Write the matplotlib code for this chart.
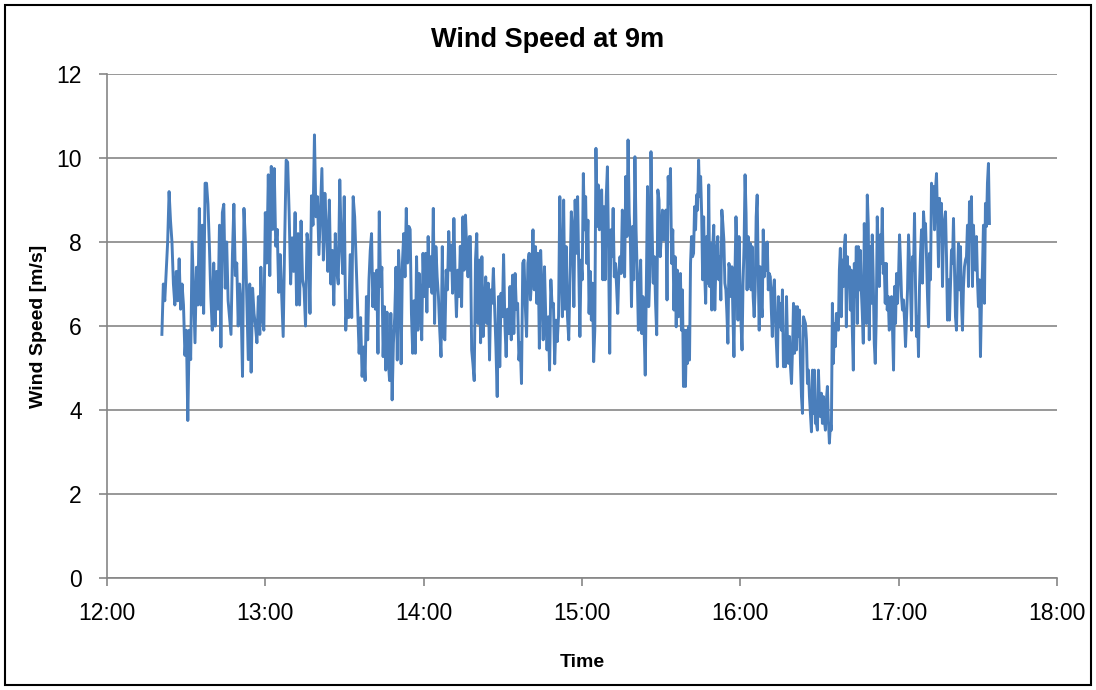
import numpy as np
import matplotlib
matplotlib.use("Agg")
import matplotlib.pyplot as plt
from matplotlib.patches import Rectangle

# Time ranges (minutes after 12:00) of each traced segment and the wind speeds in it
seg_ranges = [(20.8, 57.9), (58.3, 97.8), (98.3, 137.3), (137.7, 177.4),
              (177.9, 217.0), (217.3, 257.1), (257.5, 296.8), (297.3, 334.4)]

seg1 = [5.8, 7.0, 6.6, 7.3, 8.0, 9.2, 8.5, 8.0, 7.0, 6.5, 7.3, 6.6, 7.6, 6.4, 7.0, 6.5, 5.3, 5.9, 3.75, 5.9,
        5.2, 8.0, 6.8, 5.6, 7.4, 6.5, 8.8, 6.5, 8.4, 6.3, 9.4, 9.4, 8.9, 7.9, 6.7, 5.9, 7.5, 6.0, 7.3, 6.4,
        8.4, 5.5, 8.7, 8.9, 6.9, 8.0, 6.6, 6.2, 5.8, 7.7, 8.9, 7.2, 7.5, 6.0, 7.0, 6.5, 4.8, 8.8, 8.0, 6.6,
        5.2, 7.0, 4.9, 6.9, 6.3, 6.0, 5.6, 6.7, 5.8]
seg2 = [7.4, 6.2, 5.9, 8.7, 7.5, 9.6, 7.2, 9.8, 8.3, 9.75, 7.9, 8.3, 6.8, 7.7, 6.7, 5.75, 8.0, 9.95, 9.9, 8.7,
        7.0, 8.1, 7.3, 8.7, 6.5, 8.2, 6.5, 8.5, 7.1, 6.9, 6.0, 8.2, 7.9, 6.3, 9.1, 8.4, 10.55, 8.6, 9.08, 7.7,
        8.7, 9.75, 7.57, 9.16, 8.3, 7.3, 9.0, 7.0, 7.8, 6.5, 8.2, 7.3, 7.0, 9.48, 7.97, 7.25, 9.08, 5.9, 6.6, 6.2,
        7.7, 6.2, 9.08, 8.6, 7.5, 6.46, 5.35, 6.2, 4.8, 5.5, 4.7]
seg3 = [6.7, 5.67, 7.1, 7.8, 8.2, 6.46, 7.25, 6.4, 7.33, 5.35, 8.72, 6.94, 7.4, 5.27, 6.46, 4.95, 6.33, 5.19, 4.7, 6.3,
        4.24, 5.6, 6.22, 7.4, 5.19, 7.8, 7.1, 5.1, 7.5, 8.2, 7.17, 8.8, 7.5, 8.37, 8.3, 6.3, 5.35, 6.6, 5.35, 7.65,
        5.9, 7.25, 6.54, 5.67, 7.73, 6.7, 7.73, 6.33, 8.13, 6.94, 7.65, 6.78, 8.8, 6.06, 7.89, 7.17, 6.7, 5.9, 5.27, 7.89,
        5.75, 5.67, 7.33, 6.86, 8.25, 7.33, 7.93, 6.78, 8.56, 7.17, 6.22, 7.33, 6.7, 7.9, 6.46, 8.6, 7.33, 8.64, 7.8, 7.17,
        8.13]
seg4 = [8.13, 5.43, 5.1, 4.7, 7.57, 8.2, 6.06, 7.57, 5.6, 7.65, 5.75, 6.4, 7.17, 6.06, 7.02, 5.19, 6.86, 6.54, 7.37, 6.4,
        5.5, 4.32, 6.7, 5.03, 6.78, 6.22, 7.7, 6.06, 5.27, 6.4, 5.82, 6.94, 5.67, 7.21, 5.82, 7.25, 6.4, 6.54, 5.19, 5.6,
        4.63, 7.5, 7.57, 6.46, 5.75, 7.5, 7.73, 6.62, 7.17, 8.29, 6.86, 7.89, 6.54, 7.73, 5.47, 7.8, 6.86, 5.67, 7.41, 6.22,
        5.43, 6.22, 4.95, 7.1, 6.46, 6.54, 5.1, 6.14, 5.63, 6.22, 9.08, 7.33, 6.22, 9.0, 6.4, 7.89, 6.22, 5.67, 7.25, 8.72,
        8.29, 6.46, 9.0]
seg5 = [7.73, 9.08, 7.41, 5.75, 7.57, 7.1, 9.63, 8.29, 9.08, 7.49, 8.52, 6.3, 7.3, 6.14, 7.02, 5.15, 5.9, 10.23, 8.37, 9.36,
        8.29, 9.16, 9.24, 7.1, 8.84, 7.1, 9.08, 9.79, 7.8, 5.35, 8.29, 7.65, 8.8, 7.17, 7.49, 6.94, 6.3, 7.33, 7.65, 7.25,
        8.76, 8.05, 7.17, 9.56, 8.13, 10.43, 8.68, 8.05, 6.46, 8.37, 7.1, 10.03, 8.29, 7.25, 5.9, 6.86, 7.57, 5.82, 6.7, 5.9,
        4.83, 7.02, 9.32, 6.46, 7.17, 10.15, 8.29, 7.02, 7.65, 6.54, 5.79, 9.24, 9.0, 7.65, 8.13, 8.76, 8.05, 8.13, 8.76, 6.62,
        9.56, 8.92, 9.75, 7.49, 8.29, 6.38, 7.65, 5.98, 7.33, 6.22, 7.17]
seg6 = [7.25, 5.9, 6.86, 4.56, 5.9, 4.56, 5.9, 5.11, 5.98, 5.19, 7.49, 8.13, 7.65, 7.73, 8.84, 8.29, 9.12, 8.76, 9.95, 9.08,
        9.56, 8.68, 7.1, 8.6, 7.25, 6.54, 8.13, 7.02, 9.36, 6.94, 7.97, 6.38, 7.89, 8.4, 6.38, 7.33, 7.89, 8.13, 7.1, 7.65,
        6.62, 8.76, 8.44, 8.05, 7.02, 6.86, 6.3, 5.59, 7.49, 7.33, 6.7, 7.41, 6.22, 5.27, 7.25, 8.6, 7.8, 6.14, 8.13, 7.02,
        6.06, 5.43, 7.02, 7.89, 9.6, 8.68, 6.86, 8.13, 6.94, 7.97, 6.86, 7.89, 6.7, 6.22, 6.86, 8.6, 9.12, 7.33, 5.9, 7.41,
        6.54, 6.22, 8.29, 7.17, 7.97, 7.33, 8.0, 6.86, 7.25, 7.17, 6.38, 5.75, 6.86, 7.1, 6.22, 5.59, 5.03, 6.7, 5.98, 6.54,
        5.9, 6.86, 5.03, 5.75, 5.03]
seg7 = [6.7, 5.59, 5.11, 5.75, 5.03, 4.63, 5.43, 6.54, 5.35, 6.46, 5.43, 6.46, 5.75, 6.38, 5.11, 4.32, 3.92, 6.22, 6.14, 6.06,
        5.67, 4.63, 4.95, 4.32, 3.92, 3.48, 4.95, 3.92, 4.95, 3.68, 3.68, 3.52, 4.95, 4.24, 3.84, 4.4, 3.68, 4.32, 3.76, 3.52,
        4.24, 4.56, 3.76, 3.21, 3.68, 3.52, 6.54, 5.11, 6.06, 5.51, 6.3, 6.06, 5.9, 7.33, 7.85, 6.22, 7.57, 6.94, 7.89, 8.17,
        5.98, 7.65, 6.94, 7.41, 6.38, 7.33, 5.9, 4.95, 7.49, 6.7, 7.89, 6.06, 7.89, 6.86, 7.8, 6.86, 6.3, 5.59, 8.44, 7.1,
        6.06, 9.12, 8.44, 5.67, 7.89, 6.54, 8.17, 7.1, 5.59, 5.11, 6.22, 8.6, 7.73, 6.94, 8.17, 7.49, 8.8, 7.25, 7.49, 6.54,
        7.49, 6.38, 6.7, 5.9, 5.98]
seg8 = [6.7, 5.9, 4.95, 6.94, 6.06, 7.25, 6.54, 7.17, 8.17, 7.49, 6.7, 6.38, 6.62, 6.14, 5.51, 6.22, 6.86, 8.17, 7.49, 6.86,
        5.9, 7.65, 7.33, 8.68, 6.94, 5.75, 6.22, 5.27, 6.94, 7.73, 8.29, 7.02, 8.72, 8.29, 8.44, 7.65, 6.7, 5.98, 7.73, 7.1,
        9.4, 9.08, 9.32, 8.29, 9.24, 9.63, 8.6, 7.41, 9.04, 8.44, 8.92, 6.94, 8.29, 8.52, 8.72, 7.65, 6.14, 7.1, 6.14, 7.02,
        7.81, 7.49, 8.56, 7.33, 6.22, 5.9, 7.1, 7.97, 6.86, 7.89, 6.54, 5.9, 6.94, 7.41, 7.57, 7.65, 8.4, 6.94, 8.96, 8.29,
        9.08, 6.94, 8.4, 7.65, 7.33, 8.13, 7.1, 6.46, 7.1, 5.27, 6.54, 7.33, 8.4, 6.54, 8.92, 8.37, 9.4, 9.87, 8.44]

segments = [seg1, seg2, seg3, seg4, seg5, seg6, seg7, seg8]

x_ticks_min = [0, 60, 120, 180, 240, 300, 360]
x_tick_labels = ["12:00", "13:00", "14:00", "15:00", "16:00", "17:00", "18:00"]
y_ticks = [0, 2, 4, 6, 8, 10, 12]

times = np.concatenate([np.linspace(a, b, len(s)) for (a, b), s in zip(seg_ranges, segments)])
speeds = np.concatenate([np.asarray(s, dtype=float) for s in segments])

plt.rcParams['font.family'] = ['Liberation Sans', 'DejaVu Sans']

fig = plt.figure(figsize=(10.96, 6.90), dpi=100)
ax = fig.add_axes([107/1096, 1 - 578/690, (1057 - 107)/1096, (578 - 74)/690])

grid_c = '#868686'
ax.plot(times, speeds, color='#4A7EBB', linewidth=2.1, solid_joinstyle='round', zorder=3)

ax.set_xlim(0, 360)
ax.set_ylim(0, 12)
ax.set_xticks(x_ticks_min)
ax.set_xticklabels(x_tick_labels)
ax.set_yticks(y_ticks)
ax.yaxis.grid(True, color=grid_c, linewidth=1.2)
ax.set_axisbelow(True)
for s in ['top', 'right']:
    ax.spines[s].set_visible(False)
for s in ['left', 'bottom']:
    ax.spines[s].set_color(grid_c)
    ax.spines[s].set_linewidth(1.2)
ax.tick_params(axis='both', colors=grid_c, labelcolor='black', labelsize=16.5,
               length=6, width=1.2, direction='out')
ax.tick_params(axis='x', pad=11)
ax.tick_params(axis='y', pad=12)

fig.text(0.5, 1 - 40/690, "Wind Speed at 9m", fontsize=19.5, fontweight='bold',
         ha='center', va='center')
ax.set_xlabel("Time", fontsize=14, fontweight='bold', labelpad=21)
ax.set_ylabel("Wind Speed [m/s]", fontsize=14, fontweight='bold', labelpad=7)

fig.patches.append(Rectangle((5/1096, 5/690), 1086/1096, 680/690, transform=fig.transFigure,
                             fill=False, edgecolor='black', linewidth=1.5))

fig.savefig("out.png", dpi=100, facecolor='white')
